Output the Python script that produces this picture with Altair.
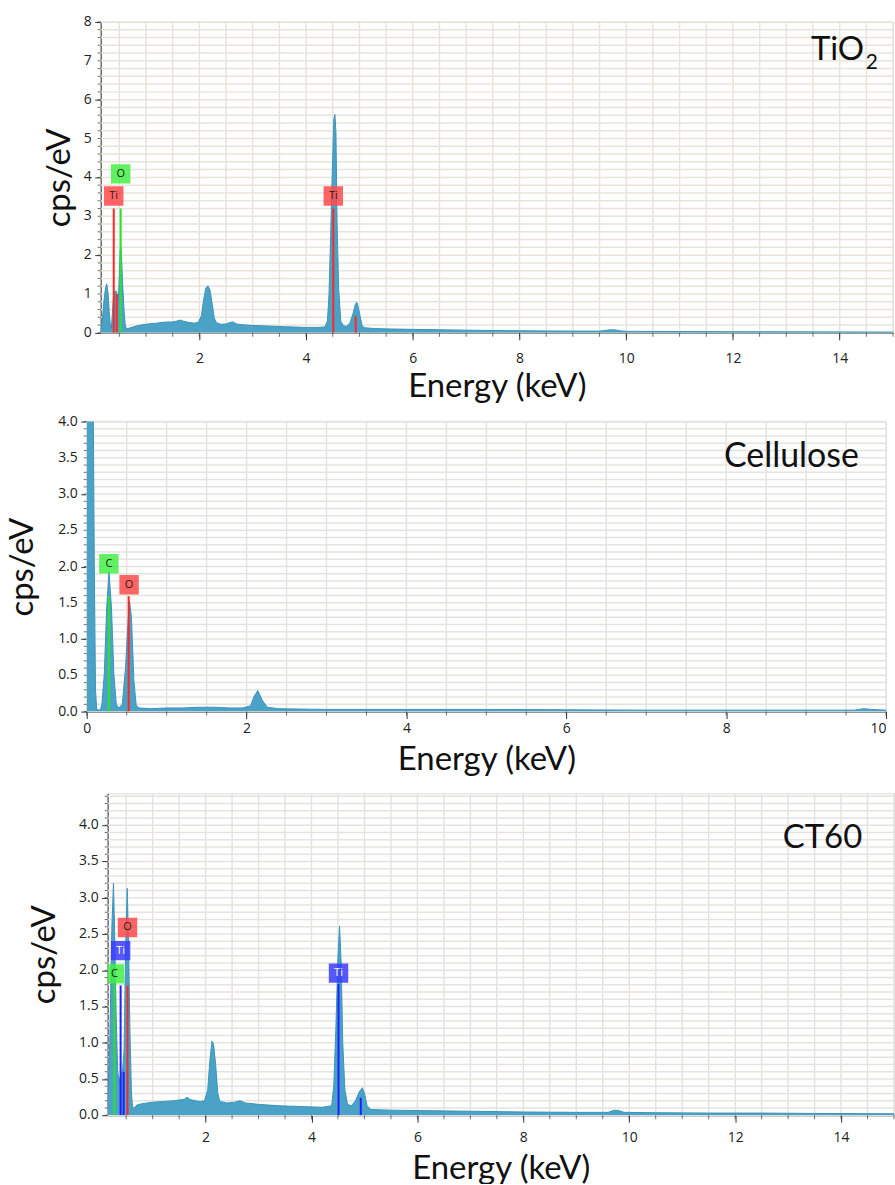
import altair as alt
import pandas as pd

# ---------------- EDS spectra (energy in keV, intensity in cps/eV) ----------------
tio2_energy = [0.15, 0.18, 0.21, 0.24, 0.265, 0.29, 0.31, 0.33, 0.35, 0.37, 0.39, 0.41, 0.44,
               0.46, 0.48, 0.50, 0.515, 0.525, 0.54, 0.56, 0.59, 0.61, 0.63, 0.66, 0.70, 0.75,
               0.80, 0.90, 1.0, 1.1, 1.2, 1.3, 1.4, 1.5, 1.6, 1.65, 1.7, 1.8, 1.9, 1.98, 2.04,
               2.08, 2.12, 2.16, 2.20, 2.24, 2.28, 2.32, 2.4, 2.5, 2.58, 2.63, 2.7, 2.8, 3.0,
               3.2, 3.4, 3.6, 3.8, 4.0, 4.2, 4.35, 4.40, 4.43, 4.46, 4.49, 4.52, 4.54, 4.56,
               4.58, 4.61, 4.65, 4.70, 4.76, 4.82, 4.88, 4.92, 4.95, 4.98, 5.01, 5.05, 5.1,
               5.3, 5.6, 6.0, 6.5, 7.0, 7.5, 8.0, 8.5, 9.0, 9.5, 9.6, 9.7, 9.8, 9.9, 10.0,
               11.0, 12.0, 13.0, 14.0, 15.0]
tio2_cps = [0.02, 0.30, 0.80, 1.15, 1.26, 1.00, 0.55, 0.20, 0.12, 0.50, 0.95, 1.06, 1.08,
            1.00, 0.80, 1.50, 2.10, 2.26, 2.00, 1.30, 0.55, 0.20, 0.12, 0.11, 0.13, 0.15,
            0.17, 0.20, 0.22, 0.24, 0.25, 0.27, 0.28, 0.28, 0.31, 0.33, 0.30, 0.27, 0.25,
            0.27, 0.45, 0.85, 1.15, 1.21, 1.10, 0.75, 0.38, 0.26, 0.22, 0.23, 0.27, 0.28,
            0.23, 0.21, 0.19, 0.18, 0.17, 0.16, 0.15, 0.14, 0.14, 0.15, 0.30, 1.00, 2.50,
            4.10, 5.50, 5.62, 5.15, 2.90, 1.15, 0.30, 0.18, 0.17, 0.25, 0.50, 0.72, 0.79,
            0.65, 0.45, 0.18, 0.13, 0.11, 0.10, 0.09, 0.08, 0.07, 0.06, 0.055, 0.05, 0.045,
            0.045, 0.06, 0.08, 0.075, 0.05, 0.04, 0.035, 0.03, 0.028, 0.025, 0.02]

cell_energy = [0.0, 0.08, 0.095, 0.11, 0.125, 0.17, 0.19, 0.22, 0.25, 0.278, 0.31, 0.34, 0.37,
               0.40, 0.445, 0.486, 0.515, 0.536, 0.56, 0.59, 0.62, 0.66, 0.8, 1.0, 1.2, 1.4,
               1.6, 1.8, 1.95, 2.05, 2.09, 2.14, 2.2, 2.26, 2.4, 3.0, 4.0, 5.0, 6.0, 7.0,
               8.0, 9.0, 9.6, 9.72, 9.82, 10.0]
cell_cps = [4.5, 4.5, 2.0, 0.30, 0.03, 0.02, 0.10, 0.52, 1.43, 1.94, 1.43, 0.52, 0.10,
            0.05, 0.10, 0.61, 1.20, 1.52, 1.30, 0.43, 0.08, 0.05, 0.04, 0.05, 0.05, 0.06,
            0.06, 0.05, 0.05, 0.08, 0.20, 0.29, 0.15, 0.06, 0.04, 0.03, 0.03, 0.03, 0.025,
            0.02, 0.02, 0.02, 0.02, 0.04, 0.03, 0.02]

ct60_energy = [0.15, 0.19, 0.23, 0.26, 0.28, 0.31, 0.34, 0.37, 0.40, 0.43, 0.46, 0.49, 0.52,
               0.545, 0.57, 0.60, 0.62, 0.66, 0.7, 0.8, 0.9, 1.0, 1.2, 1.4, 1.6, 1.65, 1.7,
               1.8, 1.9, 1.98, 2.04, 2.08, 2.12, 2.15, 2.19, 2.23, 2.27, 2.4, 2.55, 2.65,
               2.75, 3.0, 3.4, 3.8, 4.2, 4.38, 4.42, 4.46, 4.50, 4.53, 4.56, 4.59, 4.63, 4.68,
               4.75, 4.83, 4.90, 4.96, 5.0, 5.05, 5.12, 5.5, 6.0, 7.0, 8.0, 9.0, 9.6, 9.72,
               9.8, 9.9, 10.5, 11.5, 12.5, 13.5, 15.0]
ct60_cps = [0.10, 1.00, 2.60, 3.20, 2.60, 1.40, 0.60, 0.45, 0.58, 0.60, 0.90, 2.30, 3.13,
            2.40, 1.20, 0.30, 0.12, 0.10, 0.14, 0.16, 0.17, 0.18, 0.19, 0.20, 0.22, 0.25,
            0.22, 0.20, 0.19, 0.20, 0.35, 0.75, 1.02, 0.98, 0.70, 0.30, 0.19, 0.17, 0.18,
            0.20, 0.17, 0.15, 0.13, 0.12, 0.11, 0.13, 0.40, 1.20, 2.20, 2.61, 2.10, 1.00,
            0.35, 0.15, 0.13, 0.20, 0.32, 0.38, 0.30, 0.13, 0.08, 0.07, 0.065, 0.055, 0.045,
            0.04, 0.04, 0.07, 0.065, 0.04, 0.035, 0.03, 0.03, 0.025, 0.02]

# ---------------- element lines and their tags ----------------
RED, GREEN, BLUE = "#ff2626", "#2ee02e", "#1f1fff"
BOX_RED, BOX_GREEN, BOX_BLUE = "#ff4a4a", "#44f044", "#3b3bff"

tio2_line_e = [0.395, 0.452, 0.525, 4.51, 4.93]
tio2_line_top = [3.2, 1.0, 3.2, 3.2, 0.43]
tio2_line_col = [RED, RED, GREEN, RED, RED]
tio2_tag_e = [0.395, 0.525, 4.51]
tio2_tag_y = [3.52, 4.09, 3.52]
tio2_tag_txt = ["Ti", "O", "Ti"]
tio2_tag_fill = [BOX_RED, BOX_GREEN, BOX_RED]
tio2_tag_ink = ["#222222", "#222222", "#222222"]

cell_line_e = [0.277, 0.525]
cell_line_top = [1.59, 1.59]
cell_line_col = [GREEN, RED]
cell_tag_e = [0.277, 0.530]
cell_tag_y = [2.04, 1.75]
cell_tag_txt = ["C", "O"]
cell_tag_fill = [BOX_GREEN, BOX_RED]
cell_tag_ink = ["#222222", "#222222"]

ct60_line_e = [0.277, 0.395, 0.452, 0.525, 4.51, 4.93]
ct60_line_top = [1.81, 1.79, 0.60, 1.79, 1.81, 0.24]
ct60_line_col = [GREEN, BLUE, BLUE, RED, BLUE, BLUE]
ct60_tag_e = [0.277, 0.395, 0.525, 4.51]
ct60_tag_y = [1.95, 2.27, 2.59, 1.96]
ct60_tag_txt = ["C", "Ti", "O", "Ti"]
ct60_tag_fill = [BOX_GREEN, BOX_BLUE, BOX_RED, BOX_BLUE]
ct60_tag_ink = ["#222222", "#ffffff", "#222222", "#ffffff"]

# sample names written inside each panel
tio2_name = {"e": [14.46, 14.49], "y": [7.03, 6.80], "t": ["TiO", "2"], "s": [33, 21]}
cell_name = {"e": [9.66], "y": [3.38], "t": ["Cellulose"], "s": [34]}
ct60_name = {"e": [14.40], "y": [3.69], "t": ["CT60"], "s": [33]}

# ---------------- labelled ticks, minor ticks and grid lines ----------------
x_major_wide = [2, 4, 6, 8, 10, 12, 14]
x_major_cell = [0, 2, 4, 6, 8, 10]
x_minor_wide = [round(0.5 * i, 2) for i in range(1, 31)]      # 0.5 ... 15
x_minor_cell = [round(0.5 * i, 2) for i in range(0, 21)]      # 0 ... 10
y_major_tio2 = [0, 1, 2, 3, 4, 5, 6, 7, 8]
y_labels_tio2 = ["0", "1", "2", "3", "4", "5", "6", "7", "8"]
y_major_half = [0.0, 0.5, 1.0, 1.5, 2.0, 2.5, 3.0, 3.5, 4.0]
y_labels_half = ["0.0", "0.5", "1.0", "1.5", "2.0", "2.5", "3.0", "3.5", "4.0"]
y_minor_tio2 = [round(0.2 * i, 2) for i in range(0, 41)]      # 0 ... 8
y_minor_cell = [round(0.1 * i, 2) for i in range(0, 41)]      # 0 ... 4
y_minor_ct60 = [round(0.1 * i, 2) for i in range(0, 45)]      # 0 ... 4.4

AREA_FILL = "#4aa3c6"
AREA_EDGE = "#3b94ba"
TITLE_FONT = "Lato"
LABEL_FONT = "Open Sans"
INK = "#333333"


def panel(energy, cps, line_e, line_top, line_col, tag_e, tag_y, tag_txt, tag_fill, tag_ink,
          name, xdom, ydom, x_major, x_minor, y_major, y_labels, y_minor, width, height,
          grid_col, ytitle_pad, xlabel_pad, xtitle_pad, last_label_right=False):
    spec = pd.DataFrame({"energy": energy, "cps": cps})
    lines = pd.DataFrame({"energy": line_e, "top": line_top, "col": line_col, "base": 0.0})
    tags = pd.DataFrame({"energy": tag_e, "y": tag_y, "txt": tag_txt, "fill": tag_fill,
                         "ink": tag_ink})
    names = pd.DataFrame(name)
    xgrid = pd.DataFrame({"g": x_minor})
    ygrid = pd.DataFrame({"g": y_minor})
    ylab = pd.DataFrame({"v": y_major, "t": y_labels})

    label_align = "center"
    if last_label_right:
        label_align = {"condition": {"test": f"datum.value >= {xdom[1]}", "value": "right"},
                       "value": "center"}

    x_axis = alt.Axis(
        values=x_major, title="Energy (keV)", grid=False, tickSize=7,
        tickColor=INK, domainColor=INK, format="d",
        labelFont=LABEL_FONT, labelFontSize=14, labelColor="#222222",
        labelPadding=xlabel_pad, labelOverlap=False, labelFlush=False, labelAlign=label_align,
        titleFont=TITLE_FONT, titleFontSize=33, titleFontWeight="normal",
        titleColor="#111111", titlePadding=xtitle_pad,
    )
    # value labels of the y axis are drawn by the text layer below
    y_axis = alt.Axis(
        values=y_major, title="cps/eV", grid=False, tickSize=6, labels=False,
        tickColor=INK, domainColor=INK,
        titleFont=TITLE_FONT, titleFontSize=33, titleFontWeight="normal",
        titleColor="#111111", titlePadding=ytitle_pad,
    )
    xs = alt.Scale(domain=xdom, nice=False, zero=False)
    ys = alt.Scale(domain=ydom, nice=False, zero=False)

    vgrid = alt.Chart(xgrid).mark_rule(color=grid_col, strokeWidth=1.5).encode(
        x=alt.X("g:Q", scale=xs, axis=x_axis)
    )
    hgrid = alt.Chart(ygrid).mark_rule(color=grid_col, strokeWidth=1.5).encode(
        y=alt.Y("g:Q", scale=ys, axis=y_axis)
    )
    area = alt.Chart(spec).mark_area(
        color=AREA_FILL, line={"color": AREA_EDGE, "strokeWidth": 1}, clip=True, opacity=1
    ).encode(x=alt.X("energy:Q", title="Energy (keV)"), y=alt.Y("cps:Q", title="cps/eV"))
    rules = alt.Chart(lines).mark_rule(strokeWidth=2, clip=True).encode(
        x="energy:Q", y="base:Q", y2="top:Q", color=alt.Color("col:N", scale=None)
    )
    boxes = alt.Chart(tags).mark_square(size=380, opacity=0.85, clip=True).encode(
        x="energy:Q", y="y:Q", color=alt.Color("fill:N", scale=None)
    )
    tag_text = alt.Chart(tags).mark_text(font=LABEL_FONT, fontSize=11, clip=True).encode(
        x="energy:Q", y="y:Q", text="txt:N", color=alt.Color("ink:N", scale=None)
    )
    sample = alt.Chart(names).mark_text(
        font=TITLE_FONT, baseline="alphabetic", color="#111111",
        align=alt.ExprRef("datum.t == 'TiO' || length(datum.t) > 1 ? 'right' : 'left'")
    ).encode(x="e:Q", y="y:Q", text="t:N", size=alt.Size("s:Q", scale=None))
    # short unlabelled ticks outside the frame
    xticks = alt.Chart(xgrid).mark_tick(
        orient="vertical", size=4, thickness=1, yOffset=2, color=INK
    ).encode(x="g:Q", y=alt.datum(ydom[0]))
    yticks = alt.Chart(ygrid).mark_tick(
        orient="horizontal", size=3, thickness=1, xOffset=-1.5, color=INK
    ).encode(y="g:Q", x=alt.datum(xdom[0]))
    ytext = alt.Chart(ylab).mark_text(
        align="right", baseline="middle", dx=-9, font=LABEL_FONT, fontSize=14,
        color="#222222"
    ).encode(y="v:Q", x=alt.datum(xdom[0]), text="t:N")

    return alt.layer(vgrid, hgrid, area, rules, boxes, tag_text, sample, xticks, yticks,
                     ytext).properties(width=width, height=height)


def spacer(w):
    # empty strip that pushes a panel to the right
    return alt.Chart(pd.DataFrame({"v": []})).mark_point().encode(
        x=alt.value(0), y=alt.value(0)
    ).properties(width=w, height=1, view=alt.ViewBackground(strokeOpacity=0))


top = panel(tio2_energy, tio2_cps, tio2_line_e, tio2_line_top, tio2_line_col, tio2_tag_e,
            tio2_tag_y, tio2_tag_txt, tio2_tag_fill, tio2_tag_ink, tio2_name,
            [0.15, 15.0], [0, 8], x_major_wide, x_minor_wide, y_major_tio2, y_labels_tio2,
            y_minor_tio2, 795, 312, "#e9e4d9", 18, 12, 5)
middle = panel(cell_energy, cell_cps, cell_line_e, cell_line_top, cell_line_col, cell_tag_e,
               cell_tag_y, cell_tag_txt, cell_tag_fill, cell_tag_ink, cell_name,
               [0.0, 10.0], [0, 4], x_major_cell, x_minor_cell, y_major_half, y_labels_half,
               y_minor_cell, 802, 291, "#e5e3df", 41, 3, 8, last_label_right=True)
bottom = panel(ct60_energy, ct60_cps, ct60_line_e, ct60_line_top, ct60_line_col, ct60_tag_e,
               ct60_tag_y, ct60_tag_txt, ct60_tag_fill, ct60_tag_ink, ct60_name,
               [0.15, 15.0], [0, 4.44], x_major_wide, x_minor_wide, y_major_half,
               y_labels_half, y_minor_ct60, 789, 323, "#e5e3df", 40, 8, 8)

row_top = alt.hconcat(spacer(40), top, spacing=0)
row_mid = alt.hconcat(spacer(3), middle, spacing=0)
row_bottom = alt.hconcat(spacer(25), bottom, spacing=0)
upper = alt.vconcat(row_top, row_mid, spacing=9)

chart = alt.vconcat(upper, row_bottom, spacing=14).properties(
    padding={"left": 3, "top": 12, "right": -1, "bottom": -4}
).configure_view(
    stroke="#4d4d4d", strokeWidth=1.5, fill="#fffefc"
).configure(background="white")

chart.save("out.html", embed_options={"renderer": "svg", "actions": False})
